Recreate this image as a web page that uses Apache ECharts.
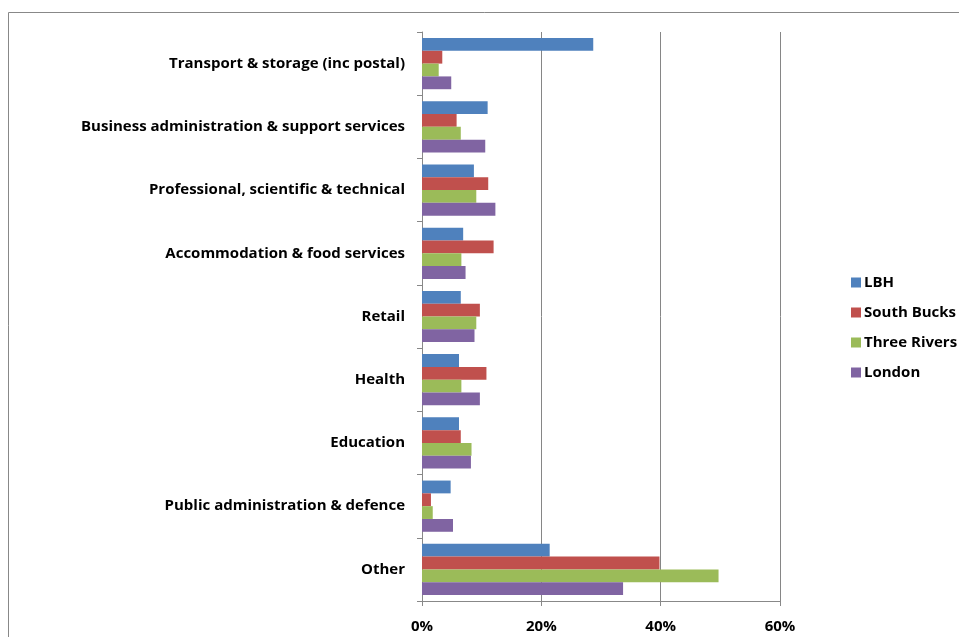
<!DOCTYPE html>
<html>
<head>
<meta charset="utf-8">
<script src="https://cdn.jsdelivr.net/npm/echarts@6/dist/echarts.min.js"></script>
<style>
  html, body { margin: 0; padding: 0; background: #fff; }
  #chart { width: 959px; height: 637px; }
</style>
</head>
<body>
<div id="chart"></div>
<script>
// categories, top to bottom
const categories = [
  'Transport & storage (inc postal)',
  'Business administration & support services',
  'Professional, scientific & technical',
  'Accommodation & food services',
  'Retail',
  'Health',
  'Education',
  'Public administration & defence',
  'Other'
]

// share of employment, %
const lbh = [28.7, 11.0, 8.7, 6.9, 6.5, 6.2, 6.2, 4.8, 21.4]
const southBucks = [3.4, 5.8, 11.1, 12.0, 9.7, 10.8, 6.5, 1.5, 39.8]
const threeRivers = [2.8, 6.5, 9.1, 6.6, 9.1, 6.6, 8.3, 1.8, 49.7]
const london = [4.9, 10.6, 12.3, 7.3, 8.8, 9.7, 8.2, 5.2, 33.7]

const seriesNames = ['LBH', 'South Bucks', 'Three Rivers', 'London']
const seriesData = [lbh, southBucks, threeRivers, london]
const colors = ['#4F81BD', '#C0504D', '#9BBB59', '#8064A2']

const fontFamily = '"Open Sans", sans-serif'

const chart = echarts.init(document.getElementById('chart'))

chart.setOption({
  animation: false,
  color: colors,
  graphic: [
    {
      type: 'rect',
      shape: { x: 8.5, y: 12.5, width: 1000, height: 700 },
      style: { fill: 'none', stroke: '#888', lineWidth: 1 },
      silent: true
    }
  ],
  legend: {
    orient: 'vertical',
    left: 846,
    top: 270,
    itemWidth: 10,
    itemHeight: 10,
    itemGap: 15,
    icon: 'rect',
    data: seriesNames,
    textStyle: { fontFamily, fontSize: 15, fontWeight: 'bold', color: '#000', padding: [0, 0, 0, -2] }
  },
  grid: {
    left: 422,
    right: 179,
    top: 32,
    bottom: 36,
    containLabel: false
  },
  xAxis: {
    type: 'value',
    min: 0,
    max: 60,
    interval: 20,
    axisLine: { show: true, lineStyle: { color: '#888' } },
    axisTick: { show: true, length: 5, lineStyle: { color: '#888' } },
    splitLine: { show: true, lineStyle: { color: '#868686' } },
    axisLabel: {
      formatter: '{value}%',
      fontFamily,
      fontSize: 15,
      fontWeight: 'bold',
      color: '#000',
      margin: 18
    }
  },
  yAxis: {
    type: 'category',
    inverse: true,
    data: categories,
    axisLine: { show: true, lineStyle: { color: '#888' } },
    axisTick: { show: true, length: 5, lineStyle: { color: '#888' } },
    splitLine: { show: false },
    axisLabel: {
      fontFamily,
      fontSize: 15,
      fontWeight: 'bold',
      color: '#000',
      margin: 17,
      padding: [3, 0, 0, 0]
    }
  },
  series: seriesNames.map((name, i) => ({
    name,
    type: 'bar',
    data: seriesData[i],
    barGap: '0%',
    barCategoryGap: '19%',
    itemStyle: { color: colors[i] }
  }))
})
</script>
</body>
</html>
